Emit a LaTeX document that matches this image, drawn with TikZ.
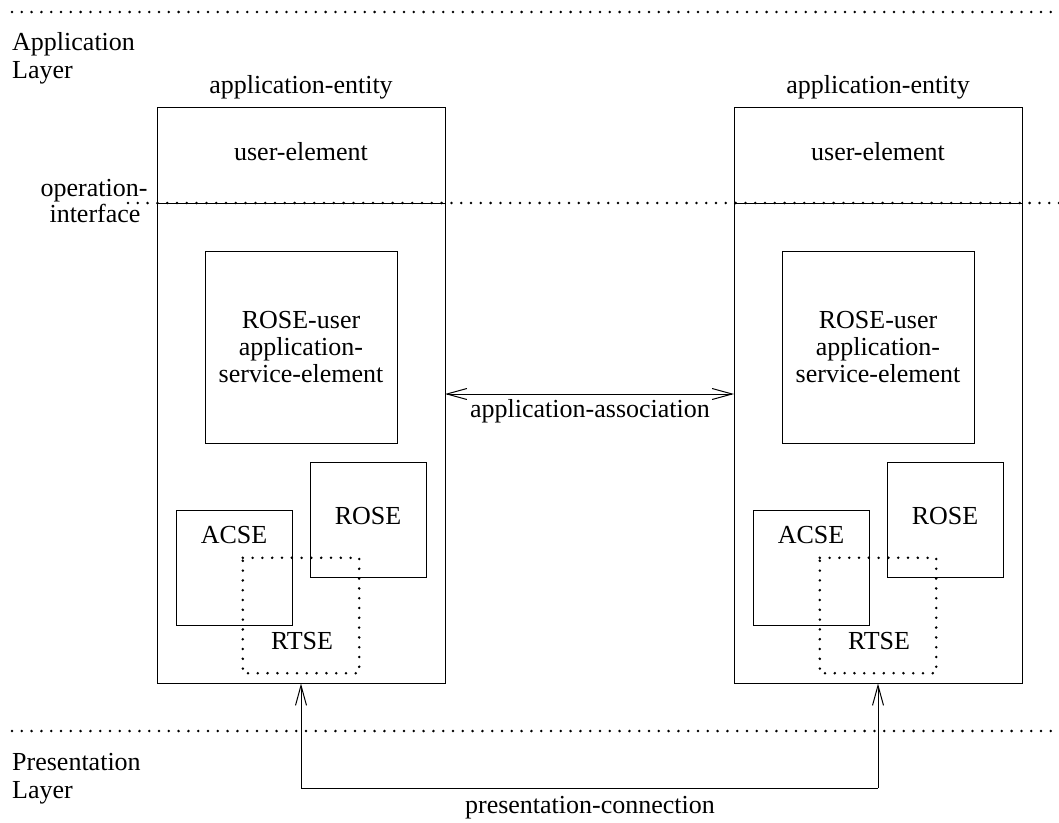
\documentclass[tikz,border=0pt]{standalone}
\usepackage{fontspec}
\setmainfont{Liberation Serif}
\usetikzlibrary{arrows.meta}
\begin{document}
\begin{tikzpicture}[x=1pt,y=-1pt,
  every node/.style={font=\fontsize{26}{28}\selectfont, inner sep=0pt},
  frame/.style={draw, line width=1pt, rectangle, inner sep=0pt, minimum width=#1, minimum height=#1},
  frame/.default=116pt,
  dotline/.style={line width=2.8pt, line cap=round, dash pattern=on 0pt off 9.8pt},
  dotframe/.style={rectangle, inner sep=0pt, minimum width=116pt, minimum height=115pt},
  lbl/.style={anchor=base},
  barb/.style={line width=1pt, -{Straight Barb[length=20pt,width=11pt]}},
  dbarb/.style={line width=1pt, {Straight Barb[length=20pt,width=11pt]}-{Straight Barb[length=20pt,width=11pt]}}
]
\useasboundingbox (0,0) rectangle (1059,822);

% layer boundaries
\coordinate (topL) at (12,12);   \coordinate (topR) at (1059,12);
\coordinate (opiL) at (128,203); \coordinate (opiR) at (1059,203);
\coordinate (preL) at (12,731);  \coordinate (preR) at (1059,731);
\draw[dotline] (topL) -- (topR);
\draw[dotline] (opiL) -- (opiR);
\draw[dotline] (preL) -- (preR);

% layer labels
\node[lbl, anchor=base west, align=left] (applayer) at (12,50) {Application};
\node[lbl, anchor=base west] (applayer2) at (12,78) {Layer};
\node[lbl, anchor=base] (opif1) at (94,196) {operation-};
\node[lbl, anchor=base] (opif2) at (95,222) {interface};
\node[lbl, anchor=base west] (prelayer) at (12,770) {Presentation};
\node[lbl, anchor=base west] (prelayer2) at (12,798) {Layer};

% the two application-entities
\foreach \s/\dx in {L/0, R/577}{
  \begin{scope}[xshift=\dx pt]
    \node[draw, line width=1pt, rectangle, minimum width=288pt, minimum height=576pt] (ae\s) at (301,395) {};
    \node[lbl] (aet\s) at (301,93) {application-entity};
    \node[lbl] (ue\s) at (301,160) {user-element};
    \draw[line width=1pt] (ae\s.west |- opiL) -- (ae\s.east |- opiL);
    \node[frame=192pt, align=center, font=\fontsize{26}{27}\selectfont] (ru\s) at (301,347)
      {ROSE-user\\application-\\service-element};
    \node[draw, line width=1pt, rectangle, minimum width=116pt, minimum height=115pt] (rose\s) at (368,519.5) {};
    \node[lbl] (roset\s) at (368,524) {ROSE};
    \node[draw, line width=1pt, rectangle, minimum width=116pt, minimum height=115pt] (acse\s) at (234,567.5) {};
    \node[lbl] (acset\s) at (234,543) {ACSE};
    \node[dotframe] (rtse\s) at (301,615.5) {};
    \draw[dotline] (rtse\s.north west) -- (rtse\s.north east) -- (rtse\s.south east) -- (rtse\s.south west) -- cycle;
    \node[lbl] (rtset\s) at (302,649) {RTSE};
    \coordinate (pc\s) at (301,788);
  \end{scope}
}

% application-association
\coordinate (aaL) at (445,394);
\coordinate (aaR) at (734,394);
\draw[dbarb] (aaL) -- (aaR);
\node[lbl] (aat) at (590,417) {application-association};

% presentation-connection
\draw[line width=1pt] (pcL) -- (pcR);
\draw[barb] (pcL) -- (aeL.south);
\draw[barb] (pcR) -- (aeR.south);
\node[lbl] (pct) at (590,813) {presentation-connection};
\end{tikzpicture}
\end{document}
